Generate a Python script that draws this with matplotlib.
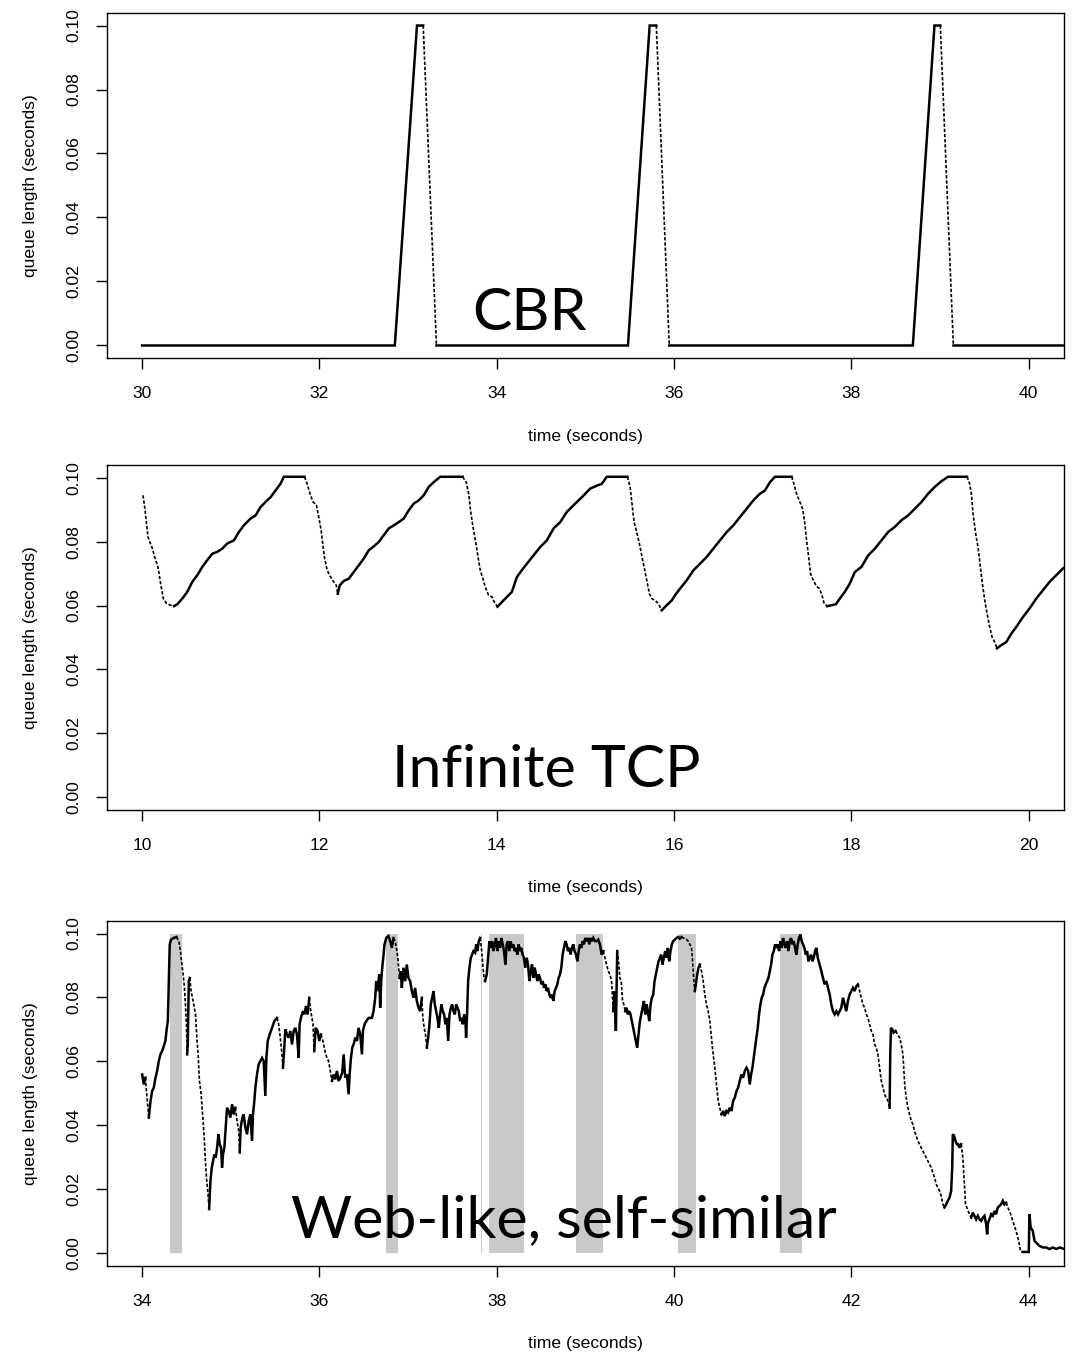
import numpy as np
import matplotlib
matplotlib.use("Agg")
import matplotlib.pyplot as plt

plt.rcParams["font.family"] = ["Liberation Sans", "DejaVu Sans"]

# ---- CBR panel ----
cbr_t = [30.0, 32.85, 33.10, 33.17, 33.32, 35.48, 35.725, 35.80, 35.946,
         38.694, 38.938, 39.004, 39.151, 40.5]
cbr_q = [0.0, 0.0, 0.1, 0.1, 0.0, 0.0, 0.1, 0.1, 0.0,
         0.0, 0.1, 0.1, 0.0, 0.0]

# ---- Infinite TCP panel ----
tcp_t = [10.009, 10.028, 10.066, 10.115, 10.141, 10.178, 10.208, 10.238, 10.276, 10.321,
         10.359, 10.396, 10.453, 10.509, 10.565, 10.622, 10.678, 10.734, 10.791, 10.847,
         10.903, 10.959, 11.035, 11.091, 11.147, 11.222, 11.279, 11.335, 11.391, 11.448,
         11.504, 11.560, 11.598, 11.831, 11.861, 11.899, 11.929, 11.966, 11.992, 12.019,
         12.041, 12.056, 12.086, 12.124, 12.161, 12.191, 12.206, 12.229, 12.274, 12.331,
         12.387, 12.444, 12.500, 12.556, 12.612, 12.669, 12.725, 12.781, 12.838, 12.894,
         12.950, 13.007, 13.063, 13.119, 13.176, 13.232, 13.288, 13.363, 13.615, 13.656,
         13.683, 13.709, 13.739, 13.769, 13.795, 13.814, 13.844, 13.870, 13.908, 13.946,
         13.972, 14.009, 14.058, 14.115, 14.171, 14.227, 14.284, 14.340, 14.415, 14.490,
         14.565, 14.640, 14.716, 14.791, 14.866, 14.960, 15.054, 15.129, 15.185, 15.241,
         15.474, 15.504, 15.530, 15.549, 15.579, 15.609, 15.635, 15.662, 15.692, 15.722,
         15.748, 15.786, 15.824, 15.861, 15.917, 15.974, 16.011, 16.068, 16.143, 16.218,
         16.293, 16.368, 16.443, 16.518, 16.594, 16.669, 16.744, 16.819, 16.894, 16.969,
         17.025, 17.082, 17.138, 17.326, 17.352, 17.382, 17.420, 17.450, 17.476, 17.495,
         17.514, 17.540, 17.563, 17.600, 17.638, 17.664, 17.694, 17.728, 17.777, 17.826,
         17.871, 17.927, 17.983, 18.040, 18.115, 18.190, 18.265, 18.340, 18.415, 18.490,
         18.566, 18.641, 18.716, 18.791, 18.866, 18.941, 19.016, 19.091, 19.305, 19.335,
         19.354, 19.373, 19.403, 19.429, 19.456, 19.478, 19.505, 19.531, 19.561, 19.587,
         19.617, 19.643, 19.692, 19.749, 19.805, 19.861, 19.936, 20.011, 20.087, 20.162,
         20.237, 20.312, 20.387, 20.45]
tcp_q = [0.0945, 0.0908, 0.0814, 0.0778, 0.0752, 0.0721, 0.0669, 0.0622, 0.0606, 0.0601,
         0.0598, 0.0604, 0.0622, 0.0643, 0.0674, 0.0695, 0.0721, 0.0742, 0.0762, 0.0768,
         0.0778, 0.0794, 0.0804, 0.0830, 0.0851, 0.0872, 0.0882, 0.0908, 0.0924, 0.0939,
         0.0960, 0.0981, 0.1003, 0.1003, 0.0981, 0.0945, 0.0924, 0.0914, 0.0877, 0.0835,
         0.0783, 0.0752, 0.0711, 0.0690, 0.0674, 0.0663, 0.0637, 0.0663, 0.0677, 0.0684,
         0.0705, 0.0726, 0.0747, 0.0773, 0.0785, 0.0799, 0.0820, 0.0841, 0.0851, 0.0861,
         0.0872, 0.0898, 0.0919, 0.0929, 0.0945, 0.0971, 0.0986, 0.1003, 0.1003, 0.0986,
         0.0950, 0.0887, 0.0835, 0.0788, 0.0741, 0.0710, 0.0684, 0.0658, 0.0632, 0.0627,
         0.0611, 0.0596, 0.0611, 0.0627, 0.0643, 0.0689, 0.0711, 0.0731, 0.0757, 0.0783,
         0.0804, 0.0841, 0.0861, 0.0893, 0.0914, 0.0939, 0.0966, 0.0975, 0.0981, 0.1003,
         0.1003, 0.0971, 0.0908, 0.0861, 0.0830, 0.0794, 0.0757, 0.0721, 0.0679, 0.0637,
         0.0622, 0.0616, 0.0606, 0.0585, 0.0601, 0.0616, 0.0632, 0.0653, 0.0679, 0.0710,
         0.0731, 0.0752, 0.0778, 0.0804, 0.0830, 0.0851, 0.0877, 0.0903, 0.0929, 0.0950,
         0.0960, 0.0986, 0.1003, 0.1003, 0.0981, 0.0950, 0.0924, 0.0903, 0.0856, 0.0804,
         0.0762, 0.0700, 0.0684, 0.0663, 0.0653, 0.0637, 0.0606, 0.0598, 0.0601, 0.0604,
         0.0622, 0.0643, 0.0669, 0.0705, 0.0721, 0.0757, 0.0778, 0.0804, 0.0830, 0.0846,
         0.0867, 0.0882, 0.0903, 0.0924, 0.0950, 0.0971, 0.0989, 0.1003, 0.1003, 0.0981,
         0.0950, 0.0887, 0.0825, 0.0783, 0.0721, 0.0669, 0.0617, 0.0575, 0.0533, 0.0502,
         0.0486, 0.0466, 0.0476, 0.0486, 0.0512, 0.0533, 0.0564, 0.0591, 0.0622, 0.0648,
         0.0674, 0.0695, 0.0716, 0.0730]

# ---- Web-like panel ----
web_t = [34.000, 34.018, 34.037, 34.048, 34.063, 34.075, 34.094, 34.112, 34.131, 34.150,
         34.169, 34.187, 34.206, 34.225, 34.244, 34.262, 34.274, 34.289, 34.296, 34.304,
         34.311, 34.326, 34.356, 34.386, 34.413, 34.432, 34.439, 34.462, 34.477, 34.488,
         34.499, 34.507, 34.514, 34.526, 34.537, 34.552, 34.574, 34.601, 34.619, 34.631,
         34.646, 34.665, 34.676, 34.687, 34.702, 34.713, 34.725, 34.740, 34.755, 34.770,
         34.785, 34.800, 34.815, 34.830, 34.845, 34.860, 34.875, 34.890, 34.901, 34.912,
         34.927, 34.942, 34.957, 34.976, 34.995, 35.014, 35.033, 35.051, 35.070, 35.089,
         35.100, 35.111, 35.130, 35.145, 35.164, 35.183, 35.202, 35.220, 35.239, 35.250,
         35.265, 35.277, 35.295, 35.314, 35.333, 35.352, 35.371, 35.389, 35.401, 35.416,
         35.438, 35.465, 35.491, 35.521, 35.540, 35.558, 35.577, 35.588, 35.603, 35.615,
         35.634, 35.652, 35.671, 35.690, 35.709, 35.727, 35.746, 35.765, 35.776, 35.791,
         35.814, 35.829, 35.848, 35.866, 35.885, 35.896, 35.915, 35.927, 35.941, 35.957,
         35.979, 35.998, 36.017, 36.039, 36.062, 36.084, 36.103, 36.122, 36.141, 36.160,
         36.178, 36.197, 36.216, 36.235, 36.257, 36.272, 36.291, 36.310, 36.329, 36.340,
         36.355, 36.370, 36.385, 36.404, 36.423, 36.441, 36.460, 36.479, 36.490, 36.509,
         36.528, 36.554, 36.591, 36.610, 36.629, 36.640, 36.655, 36.674, 36.685, 36.696,
         36.708, 36.723, 36.734, 36.753, 36.779, 36.798, 36.817, 36.835, 36.854, 36.873,
         36.884, 36.903, 36.918, 36.929, 36.948, 36.967, 36.985, 37.004, 37.023, 37.042,
         37.061, 37.079, 37.098, 37.117, 37.136, 37.155, 37.166, 37.181, 37.196, 37.211,
         37.226, 37.241, 37.256, 37.271, 37.286, 37.301, 37.316, 37.331, 37.346, 37.361,
         37.376, 37.391, 37.406, 37.421, 37.436, 37.452, 37.467, 37.482, 37.497, 37.512,
         37.527, 37.542, 37.557, 37.572, 37.587, 37.602, 37.617, 37.632, 37.647, 37.654,
         37.665, 37.677, 37.692, 37.707, 37.722, 37.737, 37.756, 37.767, 37.782, 37.797,
         37.812, 37.827, 37.842, 37.857, 37.868, 37.887, 37.902, 37.917, 37.932, 37.947,
         37.962, 37.977, 37.992, 38.007, 38.022, 38.037, 38.052, 38.067, 38.082, 38.097,
         38.112, 38.127, 38.142, 38.157, 38.172, 38.187, 38.202, 38.217, 38.232, 38.247,
         38.262, 38.277, 38.292, 38.307, 38.322, 38.338, 38.353, 38.368, 38.383, 38.398,
         38.413, 38.428, 38.443, 38.458, 38.473, 38.488, 38.503, 38.518, 38.533, 38.548,
         38.563, 38.578, 38.593, 38.608, 38.623, 38.638, 38.653, 38.668, 38.683, 38.698,
         38.713, 38.728, 38.743, 38.758, 38.773, 38.788, 38.803, 38.818, 38.833, 38.848,
         38.863, 38.878, 38.894, 38.909, 38.924, 38.939, 38.954, 38.969, 38.984, 38.999,
         39.014, 39.029, 39.044, 39.059, 39.074, 39.089, 39.108, 39.127, 39.145, 39.164,
         39.183, 39.202, 39.220, 39.239, 39.258, 39.277, 39.295, 39.314, 39.329, 39.344,
         39.359, 39.374, 39.389, 39.404, 39.419, 39.434, 39.449, 39.464, 39.479, 39.494,
         39.509, 39.524, 39.539, 39.554, 39.569, 39.584, 39.599, 39.615, 39.630, 39.645,
         39.660, 39.675, 39.690, 39.705, 39.720, 39.735, 39.750, 39.765, 39.780, 39.795,
         39.810, 39.825, 39.840, 39.855, 39.870, 39.885, 39.900, 39.915, 39.930, 39.945,
         39.960, 39.975, 39.990, 40.009, 40.028, 40.047, 40.065, 40.084, 40.103, 40.122,
         40.141, 40.160, 40.178, 40.197, 40.209, 40.224, 40.235, 40.246, 40.261, 40.276,
         40.291, 40.310, 40.329, 40.347, 40.366, 40.385, 40.404, 40.422, 40.441, 40.460,
         40.479, 40.498, 40.516, 40.535, 40.554, 40.572, 40.591, 40.610, 40.629, 40.648,
         40.666, 40.685, 40.704, 40.723, 40.741, 40.760, 40.779, 40.798, 40.817, 40.836,
         40.854, 40.869, 40.884, 40.899, 40.914, 40.929, 40.944, 40.959, 40.974, 40.989,
         41.004, 41.020, 41.035, 41.050, 41.065, 41.080, 41.095, 41.110, 41.125, 41.140,
         41.155, 41.170, 41.185, 41.200, 41.215, 41.230, 41.245, 41.260, 41.275, 41.290,
         41.305, 41.320, 41.335, 41.350, 41.365, 41.380, 41.395, 41.410, 41.425, 41.440,
         41.455, 41.470, 41.486, 41.501, 41.516, 41.531, 41.546, 41.561, 41.576, 41.591,
         41.606, 41.621, 41.662, 41.680, 41.699, 41.718, 41.737, 41.756, 41.774, 41.793,
         41.812, 41.831, 41.850, 41.868, 41.887, 41.906, 41.925, 41.943, 41.962, 41.981,
         42.000, 42.018, 42.037, 42.056, 42.075, 42.094, 42.112, 42.131, 42.150, 42.169,
         42.188, 42.206, 42.225, 42.244, 42.263, 42.281, 42.300, 42.319, 42.338, 42.357,
         42.375, 42.394, 42.413, 42.432, 42.439, 42.447, 42.462, 42.477, 42.500, 42.522,
         42.545, 42.563, 42.582, 42.593, 42.605, 42.620, 42.638, 42.657, 42.676, 42.695,
         42.713, 42.732, 42.751, 42.770, 42.788, 42.807, 42.826, 42.845, 42.863, 42.882,
         42.901, 42.920, 42.939, 42.958, 42.976, 42.995, 43.014, 43.033, 43.051, 43.070,
         43.089, 43.108, 43.126, 43.138, 43.145, 43.160, 43.175, 43.190, 43.205, 43.220,
         43.239, 43.258, 43.269, 43.280, 43.288, 43.303, 43.318, 43.333, 43.352, 43.371,
         43.389, 43.408, 43.427, 43.446, 43.465, 43.483, 43.502, 43.521, 43.532, 43.543,
         43.558, 43.577, 43.596, 43.615, 43.633, 43.652, 43.671, 43.690, 43.709, 43.727,
         43.746, 43.765, 43.784, 43.803, 43.821, 43.840, 43.859, 43.878, 43.896, 43.908,
         43.934, 43.972, 44.002, 44.009, 44.024, 44.047, 44.066, 44.085, 44.104, 44.122,
         44.160, 44.198, 44.235, 44.273, 44.310, 44.348, 44.404]
web_q = [0.0559, 0.0528, 0.0549, 0.0507, 0.0460, 0.0424, 0.0476, 0.0507, 0.0518, 0.0549,
         0.0570, 0.0601, 0.0622, 0.0632, 0.0648, 0.0664, 0.0695, 0.0726, 0.0799, 0.0893,
         0.0966, 0.0981, 0.0986, 0.0989, 0.0976, 0.0945, 0.0924, 0.0872, 0.0830, 0.0778,
         0.0716, 0.0622, 0.0653, 0.0851, 0.0861, 0.0820, 0.0789, 0.0747, 0.0664, 0.0622,
         0.0539, 0.0497, 0.0455, 0.0414, 0.0351, 0.0289, 0.0236, 0.0195, 0.0138, 0.0226,
         0.0268, 0.0289, 0.0309, 0.0299, 0.0330, 0.0372, 0.0341, 0.0330, 0.0268, 0.0309,
         0.0330, 0.0393, 0.0455, 0.0445, 0.0424, 0.0466, 0.0434, 0.0455, 0.0414, 0.0382,
         0.0315, 0.0393, 0.0424, 0.0434, 0.0393, 0.0372, 0.0414, 0.0434, 0.0351, 0.0434,
         0.0476, 0.0518, 0.0559, 0.0591, 0.0601, 0.0611, 0.0601, 0.0492, 0.0611, 0.0664,
         0.0684, 0.0705, 0.0726, 0.0736, 0.0716, 0.0674, 0.0622, 0.0580, 0.0643, 0.0700,
         0.0684, 0.0674, 0.0695, 0.0653, 0.0695, 0.0705, 0.0684, 0.0611, 0.0716, 0.0736,
         0.0757, 0.0747, 0.0773, 0.0747, 0.0799, 0.0768, 0.0736, 0.0716, 0.0632, 0.0705,
         0.0695, 0.0664, 0.0684, 0.0664, 0.0632, 0.0611, 0.0601, 0.0570, 0.0539, 0.0559,
         0.0544, 0.0570, 0.0539, 0.0549, 0.0565, 0.0622, 0.0549, 0.0559, 0.0497, 0.0559,
         0.0611, 0.0643, 0.0653, 0.0674, 0.0664, 0.0705, 0.0684, 0.0622, 0.0695, 0.0716,
         0.0726, 0.0736, 0.0736, 0.0757, 0.0799, 0.0851, 0.0820, 0.0872, 0.0768, 0.0851,
         0.0893, 0.0934, 0.0966, 0.0986, 0.0992, 0.0976, 0.0955, 0.0986, 0.0976, 0.0945,
         0.0924, 0.0861, 0.0882, 0.0830, 0.0893, 0.0851, 0.0903, 0.0861, 0.0851, 0.0820,
         0.0799, 0.0830, 0.0789, 0.0768, 0.0757, 0.0799, 0.0736, 0.0705, 0.0684, 0.0643,
         0.0674, 0.0716, 0.0778, 0.0799, 0.0820, 0.0778, 0.0757, 0.0736, 0.0705, 0.0747,
         0.0778, 0.0757, 0.0747, 0.0716, 0.0736, 0.0664, 0.0747, 0.0768, 0.0778, 0.0757,
         0.0747, 0.0778, 0.0768, 0.0757, 0.0726, 0.0736, 0.0716, 0.0747, 0.0726, 0.0674,
         0.0747, 0.0851, 0.0893, 0.0924, 0.0934, 0.0945, 0.0940, 0.0966, 0.0945, 0.0976,
         0.0986, 0.0955, 0.0903, 0.0861, 0.0851, 0.0872, 0.0924, 0.0976, 0.0955, 0.0976,
         0.0945, 0.0966, 0.0986, 0.0945, 0.0976, 0.0955, 0.0986, 0.0966, 0.0945, 0.0903,
         0.0966, 0.0976, 0.0945, 0.0976, 0.0955, 0.0966, 0.0945, 0.0955, 0.0934, 0.0966,
         0.0945, 0.0955, 0.0934, 0.0924, 0.0893, 0.0924, 0.0903, 0.0851, 0.0882, 0.0903,
         0.0861, 0.0893, 0.0872, 0.0851, 0.0872, 0.0861, 0.0841, 0.0851, 0.0830, 0.0841,
         0.0820, 0.0830, 0.0809, 0.0799, 0.0809, 0.0789, 0.0820, 0.0830, 0.0841, 0.0861,
         0.0872, 0.0893, 0.0934, 0.0955, 0.0976, 0.0966, 0.0945, 0.0955, 0.0934, 0.0955,
         0.0966, 0.0945, 0.0934, 0.0913, 0.0945, 0.0966, 0.0955, 0.0976, 0.0966, 0.0986,
         0.0976, 0.0986, 0.0966, 0.0986, 0.0976, 0.0986, 0.0976, 0.0976, 0.0981, 0.0966,
         0.0934, 0.0945, 0.0924, 0.0903, 0.0882, 0.0872, 0.0851, 0.0757, 0.0820, 0.0695,
         0.0945, 0.0913, 0.0861, 0.0851, 0.0789, 0.0778, 0.0757, 0.0768, 0.0747, 0.0757,
         0.0747, 0.0726, 0.0705, 0.0684, 0.0664, 0.0643, 0.0684, 0.0726, 0.0747, 0.0768,
         0.0789, 0.0747, 0.0778, 0.0757, 0.0726, 0.0778, 0.0799, 0.0809, 0.0851, 0.0872,
         0.0893, 0.0913, 0.0924, 0.0934, 0.0903, 0.0924, 0.0945, 0.0924, 0.0955, 0.0913,
         0.0945, 0.0966, 0.0976, 0.0981, 0.0986, 0.0989, 0.0984, 0.0989, 0.0986, 0.0984,
         0.0981, 0.0976, 0.0966, 0.0955, 0.0913, 0.0851, 0.0820, 0.0841, 0.0872, 0.0893,
         0.0903, 0.0882, 0.0851, 0.0809, 0.0778, 0.0757, 0.0726, 0.0674, 0.0622, 0.0580,
         0.0528, 0.0476, 0.0455, 0.0434, 0.0445, 0.0429, 0.0445, 0.0440, 0.0455, 0.0445,
         0.0476, 0.0486, 0.0507, 0.0518, 0.0539, 0.0559, 0.0549, 0.0570, 0.0580, 0.0570,
         0.0528, 0.0559, 0.0580, 0.0611, 0.0643, 0.0674, 0.0705, 0.0747, 0.0778, 0.0799,
         0.0809, 0.0830, 0.0841, 0.0851, 0.0861, 0.0882, 0.0903, 0.0934, 0.0945, 0.0966,
         0.0955, 0.0966, 0.0945, 0.0976, 0.0955, 0.0986, 0.0966, 0.0955, 0.0976, 0.0945,
         0.0976, 0.0986, 0.0966, 0.0976, 0.0955, 0.0934, 0.0966, 0.0986, 0.0997, 0.0976,
         0.0966, 0.0955, 0.0934, 0.0945, 0.0913, 0.0924, 0.0934, 0.0913, 0.0924, 0.0945,
         0.0955, 0.0924, 0.0882, 0.0861, 0.0841, 0.0851, 0.0830, 0.0809, 0.0778, 0.0757,
         0.0747, 0.0757, 0.0747, 0.0757, 0.0768, 0.0799, 0.0778, 0.0757, 0.0789, 0.0809,
         0.0820, 0.0830, 0.0820, 0.0835, 0.0841, 0.0820, 0.0799, 0.0778, 0.0768, 0.0747,
         0.0736, 0.0716, 0.0695, 0.0684, 0.0653, 0.0643, 0.0622, 0.0580, 0.0539, 0.0518,
         0.0497, 0.0486, 0.0476, 0.0455, 0.0622, 0.0705, 0.0700, 0.0690, 0.0695, 0.0684,
         0.0674, 0.0653, 0.0622, 0.0570, 0.0518, 0.0486, 0.0455, 0.0434, 0.0414, 0.0403,
         0.0382, 0.0367, 0.0351, 0.0341, 0.0330, 0.0320, 0.0309, 0.0299, 0.0289, 0.0278,
         0.0268, 0.0252, 0.0236, 0.0216, 0.0205, 0.0195, 0.0179, 0.0153, 0.0143, 0.0153,
         0.0164, 0.0174, 0.0195, 0.0268, 0.0372, 0.0367, 0.0351, 0.0341, 0.0341, 0.0330,
         0.0341, 0.0299, 0.0247, 0.0195, 0.0153, 0.0143, 0.0132, 0.0122, 0.0111, 0.0127,
         0.0117, 0.0106, 0.0117, 0.0106, 0.0101, 0.0111, 0.0117, 0.0091, 0.0059, 0.0096,
         0.0106, 0.0122, 0.0117, 0.0132, 0.0122, 0.0143, 0.0148, 0.0153, 0.0164, 0.0153,
         0.0158, 0.0143, 0.0132, 0.0117, 0.0101, 0.0085, 0.0070, 0.0049, 0.0028, 0.0007,
         0.0004, 0.0004, 0.0004, 0.0122, 0.0080, 0.0070, 0.0039, 0.0033, 0.0028, 0.0023,
         0.0018, 0.0018, 0.0013, 0.0018, 0.0013, 0.0018, 0.0013]

# shaded intervals (seconds) on the web-like panel
band_start = [34.31, 36.753, 37.827, 37.913, 38.89, 40.04, 41.192]
band_end = [34.454, 36.884, 37.832, 38.308, 39.194, 40.245, 41.448]

panel_titles = ["CBR", "Infinite TCP", "Web-like, self-similar"]
xticks_list = [[30, 32, 34, 36, 38, 40], [10, 12, 14, 16, 18, 20],
               [34, 36, 38, 40, 42, 44]]
xlims = [(29.6, 40.4), (9.6, 20.4), (33.6, 44.4)]
yticks = [0.00, 0.02, 0.04, 0.06, 0.08, 0.10]


def draw_trace(ax, t, q):
    """solid where the queue builds, dotted on long fast drains."""
    t = np.asarray(t); q = np.asarray(q)
    n = len(t) - 1
    dotted = np.zeros(n, bool)
    i = 0
    while i < n:
        if q[i + 1] < q[i]:
            j = i
            while j < n and q[j + 1] < q[j]:
                j += 1
            if q[i] - q[j] >= 0.012 and t[j] - t[i] >= 0.035:
                dotted[i:j] = True
            i = j
        else:
            i += 1
    # group consecutive segments of the same style into polylines
    k = 0
    while k < n:
        m = k
        while m < n and dotted[m] == dotted[k]:
            m += 1
        xs, ys = t[k:m + 1], q[k:m + 1]
        if dotted[k]:
            ax.plot(xs, ys, color="black", lw=1.2, dashes=(2.0, 1.1),
                    solid_capstyle="butt", zorder=3)
        else:
            ax.plot(xs, ys, color="black", lw=1.8, solid_joinstyle="miter",
                    zorder=3)
        k = m


fig = plt.figure(figsize=(10.77, 13.52), dpi=100)
rects = [[0.0991, 0.7350, 0.8889, 0.2556],
         [0.0991, 0.4009, 0.8889, 0.2552],
         [0.0991, 0.0636, 0.8889, 0.2554]]
series = [(cbr_t, cbr_q), (tcp_t, tcp_q), (web_t, web_q)]
title_pos = [(0.4411, 0.082), (0.4594, 0.067), (0.4777, 0.084)]

for p in range(3):
    ax = fig.add_axes(rects[p])
    if p == 2:
        for s, e in zip(band_start, band_end):
            ax.axvspan(s, e, ymin=(0.0 + 0.004) / 0.108, ymax=(0.1 + 0.004) / 0.108,
                       color="#c9c9c9", lw=0, zorder=1)
    draw_trace(ax, *series[p])
    ax.set_xlim(*xlims[p]); ax.set_ylim(-0.004, 0.104)
    ax.set_xticks(xticks_list[p])
    ax.set_xticklabels([str(v) for v in xticks_list[p]])
    ax.set_yticks(yticks)
    ax.set_yticklabels([f"{v:.2f}" for v in yticks])
    for sp in ax.spines.values():
        sp.set_linewidth(1.0)
    ax.tick_params(axis="both", direction="out", length=7.9, width=1.0,
                   labelsize=12.6, colors="black")
    ax.tick_params(axis="x", pad=12)
    ax.tick_params(axis="y", pad=15.8)
    for lab in ax.get_yticklabels():
        lab.set_rotation(90); lab.set_ha("center"); lab.set_va("center")
    ax.set_xlabel("time (seconds)", fontsize=12.6, va="center")
    ax.xaxis.set_label_coords(0.5, -0.2257)
    ax.set_ylabel("queue length (seconds)", fontsize=12.6, va="center")
    ax.yaxis.set_label_coords(-0.0801, 0.5)
    ax.text(title_pos[p][0], title_pos[p][1], panel_titles[p], transform=ax.transAxes,
            ha="center", va="baseline", fontsize=42.5, family=["Lato", "DejaVu Sans"],
            color="black", zorder=4)

fig.savefig("out.png", dpi=100)
